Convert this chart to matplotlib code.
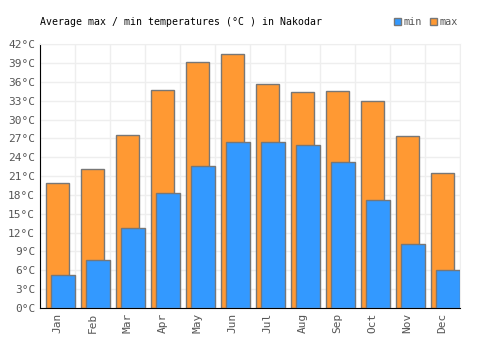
import matplotlib.pyplot as plt
from matplotlib.patches import Patch

months = ["Jan", "Feb", "Mar", "Apr", "May", "Jun",
          "Jul", "Aug", "Sep", "Oct", "Nov", "Dec"]
t_max = [19.9, 22.1, 27.5, 34.7, 39.1, 40.4, 35.6, 34.4, 34.5, 32.9, 27.4, 21.5]
t_min = [5.3, 7.6, 12.7, 18.3, 22.6, 26.4, 26.4, 25.9, 23.2, 17.2, 10.2, 6.0]

plt.rcParams['font.family'] = ['DejaVu Sans Mono']

fig = plt.figure(figsize=(5, 3.5), dpi=100)
ax = fig.add_axes([0.08, 0.12, 0.84, 0.754])

xs = list(range(len(months)))
ax.bar([x + 0.17 for x in xs], t_max, width=0.66, align='edge',
       color='#ff9933', edgecolor='#777777', linewidth=1, zorder=2)
ax.bar([x + 0.31 for x in xs], t_min, width=0.69, align='edge',
       color='#3399ff', edgecolor='#777777', linewidth=1, zorder=3)

ax.set_xlim(0, 12)
ax.set_ylim(0, 42)
ax.set_yticks(range(0, 43, 3))
ax.set_yticklabels([f"{v}°C" for v in range(0, 43, 3)])
ax.set_xticks([x + 0.5 for x in xs])
ax.set_xticklabels(months, rotation=90)
ax.set_xticks(range(0, 13), minor=True)
ax.tick_params(axis='both', labelsize=8, colors='#555555', length=0)
ax.tick_params(axis='x', which='minor', length=0)

ax.grid(axis='y', color='#eeeeee', linewidth=1, zorder=0)
ax.grid(axis='x', which='minor', color='#eeeeee', linewidth=1, zorder=0)
ax.set_axisbelow(True)

for side in ['top', 'right']:
    ax.spines[side].set_color('#eeeeee')
ax.spines['left'].set_color('black')
ax.spines['bottom'].set_color('black')

fig.text(0.08, 0.937, "Average max / min temperatures (°C ) in Nakodar",
         fontsize=7.1, ha='left', va='center', color='black')

handles = [Patch(facecolor='#3399ff', edgecolor='#777777', label='min'),
           Patch(facecolor='#ff9933', edgecolor='#777777', label='max')]
leg = fig.legend(handles=handles, loc='center right', bbox_to_anchor=(0.915, 0.937),
                 ncol=2, frameon=False, fontsize=7.3, handlelength=0.7,
                 handleheight=0.7, handletextpad=0.2, columnspacing=0.8,
                 borderpad=0, borderaxespad=0)
for t in leg.get_texts():
    t.set_color('#555555')

fig.savefig("out.png", dpi=100)
